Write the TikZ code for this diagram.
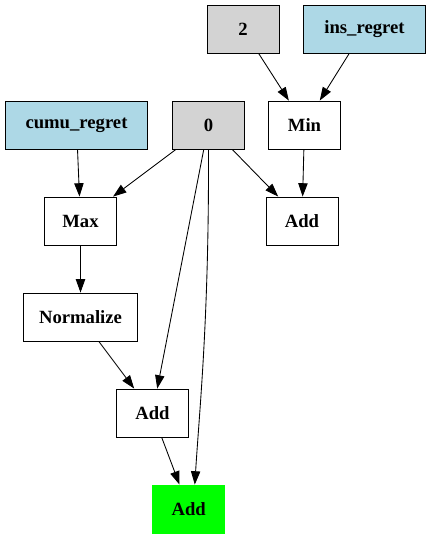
\documentclass[tikz,border=0pt]{standalone}
\usepackage{fontspec}
\setmainfont{Liberation Serif}
\usetikzlibrary{arrows.meta}
\definecolor{gvgray}{RGB}{211,211,211}
\definecolor{gvblue}{RGB}{173,216,230}
\definecolor{gvgreen}{RGB}{0,255,0}
\tikzset{
    op/.style = {draw, rectangle, line width=0.65pt, minimum width=54pt, minimum height=36pt,
                 inner sep=0pt, font=\fontsize{14}{16}\selectfont\bfseries},
    const/.style = {op, fill=gvgray},
    input/.style = {op, fill=gvblue},
    output/.style = {op, draw=gvgreen, fill=gvgreen},
    arr/.style = {line width=0.65pt, -{Triangle[length=10pt, width=7pt]}}
}
\begin{document}
\begin{tikzpicture}[x=0.75pt, y=-0.75pt]
    \useasboundingbox (0, 0) rectangle (431, 539);
    % inputs and constants
    \node[const] (two) at (243, 29) {2};
    \node[input, minimum width=91.5pt] (insregret) at (364.5, 29) {ins\_regret};
    \node[input, minimum width=107pt] (cumuregret) at (76.5, 125) {cumu\_regret};
    \node[const] (zero) at (208.5, 125) {0};
    % operations
    \node[op] (min) at (304.5, 125) {Min};
    \node[op] (max) at (80.5, 221) {Max};
    \node[op] (addr) at (302, 221) {Add};
    \node[op, minimum width=85pt] (norm) at (80.5, 317) {Normalize};
    \node[op] (addm) at (152.5, 413) {Add};
    \node[output] (addout) at (188.7, 509) {Add};
    % edges
    \draw[arr] (two) -- (min);
    \draw[arr] (insregret) -- (min);
    \draw[arr] (cumuregret) -- (max);
    \draw[arr] (zero) -- (max);
    \draw[arr] (zero) -- (addr);
    \draw[arr] (min) -- (addr);
    \draw[arr] (max) -- (norm);
    \draw[arr] (norm) -- (addm);
    \draw[arr] (zero) -- (addm);
    \draw[arr] (zero.south) .. controls +(0.5, 170) and +(5, -80) .. (addout.76);
    \draw[arr] (addm) -- (addout);
\end{tikzpicture}
\end{document}
